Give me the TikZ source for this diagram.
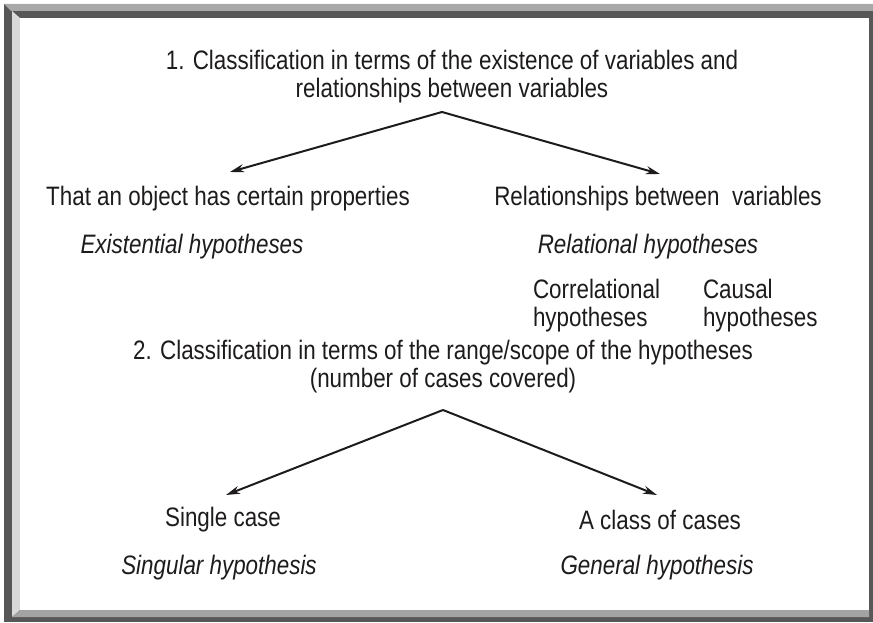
\documentclass[tikz,border=0pt]{standalone}
\usepackage{fontspec}
\setmainfont{Liberation Sans}[FakeStretch=0.84]
\usetikzlibrary{arrows.meta}
\definecolor{ink}{HTML}{1E1B1C}
\definecolor{framedark}{HTML}{575757}
\definecolor{frametop}{HTML}{A8A8A8}
\definecolor{frameside}{HTML}{D9D9D9}
\definecolor{framebot}{HTML}{A3A3A3}

\begin{document}
\begin{tikzpicture}[x=0.75pt,y=0.75pt,line width=1.5pt,>={Stealth[length=10.5pt,width=6pt]},
  txt/.style={text=ink,inner sep=0pt,align=center,font=\fontsize{20}{21}\selectfont},
  hyp/.style={txt,font=\fontsize{20}{21}\selectfont\itshape}]
\useasboundingbox (0,0) rectangle (873,622);
% ---------- frame ----------
\fill[framedark] (4,0) rectangle (873,618);
\fill[frametop] (4,618) -- (873,618) -- (873,611) -- (11,611) -- cycle;
\fill[frameside] (12,611) -- (20,604) -- (20,12) -- (12,5) -- cycle;
\fill[framebot] (12,5) -- (20,12) -- (869,12) -- (869,5) -- cycle;
\fill[white] (20,12) rectangle (869,604);
% ---------- 1. existence of variables ----------
\node[txt] (cls1) at (452,545) {1. Classification in terms of the existence of variables and\\relationships between variables};
\coordinate (apex1) at (442,510);
\coordinate (tip1) at (230,450);
\coordinate (tip2) at (660,448);
\draw[->,ink] (apex1) -- (tip1);
\draw[->,ink] (apex1) -- (tip2);
\node[txt] (prop) at (228,423) {That an object has certain properties};
\node[txt] (rel) at (658,423) {Relationships between\ \ variables};
\node[hyp] (exist) at (192,375) {Existential hypotheses};
\node[hyp] (relh) at (648,375) {Relational hypotheses};
\node[txt,align=left,anchor=west] (corr) at (532,316) {Correlational\\hypotheses};
\node[txt,align=left,anchor=west] (caus) at (702,316) {Causal\\hypotheses};
% ---------- 2. range/scope ----------
\node[txt] (cls2) at (443,255) {2. Classification in terms of the range/scope of the hypotheses\\(number of cases covered)};
\coordinate (apex2) at (443,212);
\coordinate (tip3) at (226,127);
\coordinate (tip4) at (657,127);
\draw[->,ink] (apex2) -- (tip3);
\draw[->,ink] (apex2) -- (tip4);
\node[txt] (single) at (223,102) {Single case};
\node[txt] (class) at (660,102) {A class of cases};
\node[hyp] (sing) at (219,54) {Singular hypothesis};
\node[hyp] (gen) at (657,54) {General hypothesis};
\end{tikzpicture}
\end{document}
